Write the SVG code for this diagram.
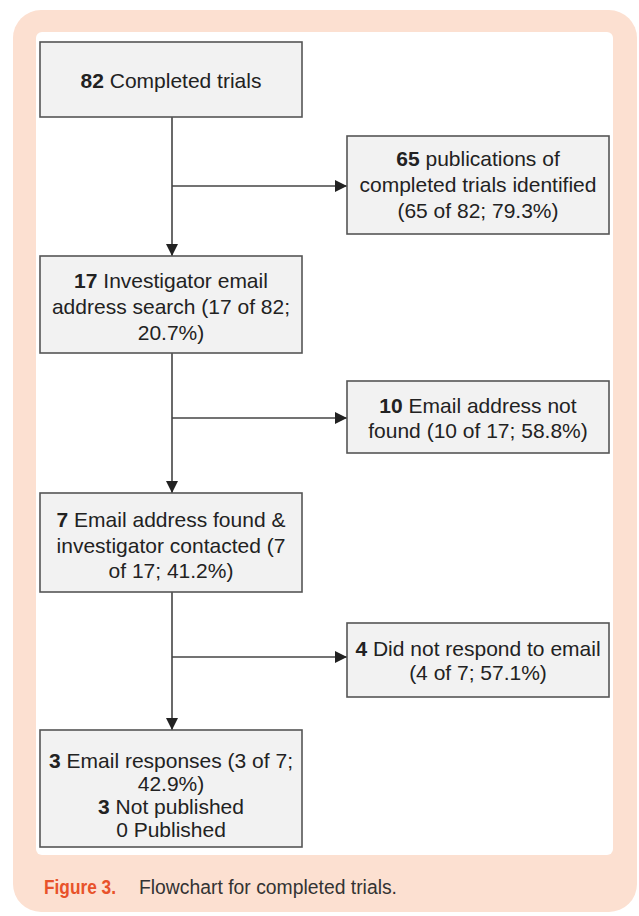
<svg xmlns="http://www.w3.org/2000/svg" width="639" height="916" viewBox="0 0 639 916">
<defs>
<style>
.box{fill:#f2f2f2;stroke:#555;stroke-width:1.6}
.t{font-family:"Liberation Sans",Arial,sans-serif;font-size:21px;fill:#222;text-anchor:middle;dominant-baseline:central}
.b{font-weight:bold}
.ln{stroke:#444;stroke-width:1.6;fill:none}
.cap{font-family:"Liberation Sans",Arial,sans-serif;font-size:20px;dominant-baseline:central}
</style>
<marker id="ah" viewBox="0 0 12 12" refX="12" refY="6" markerWidth="12" markerHeight="12" markerUnits="userSpaceOnUse" orient="auto">
<path d="M0,0 L12,6 L0,12 Z" fill="#222"/>
</marker>
</defs>
<rect x="13" y="10" width="624" height="902" rx="28" fill="#fce0d1"/>
<rect x="36" y="32" width="577" height="823" rx="6" fill="#fff"/>

<g id="connectors">
<path class="ln" d="M172,117 V256" marker-end="url(#ah)"/>
<path class="ln" d="M172,186 H347" marker-end="url(#ah)"/>
<path class="ln" d="M172,353 V493" marker-end="url(#ah)"/>
<path class="ln" d="M172,418 H347" marker-end="url(#ah)"/>
<path class="ln" d="M172,592 V730" marker-end="url(#ah)"/>
<path class="ln" d="M172,657 H347" marker-end="url(#ah)"/>
</g>

<g id="n1">
<rect class="box" x="40" y="42" width="262" height="75"/>
<text class="t" x="171" y="80"><tspan class="b">82</tspan> Completed trials</text>
</g>
<g id="n2">
<rect class="box" x="347" y="136" width="262" height="98"/>
<text class="t" x="478" y="158"><tspan class="b">65</tspan> publications of</text>
<text class="t" x="478" y="184">completed trials identified</text>
<text class="t" x="478" y="210">(65 of 82; 79.3%)</text>
</g>
<g id="n3">
<rect class="box" x="40" y="256" width="262" height="97"/>
<text class="t" x="171" y="280"><tspan class="b">17</tspan> Investigator email</text>
<text class="t" x="171" y="306">address search (17 of 82;</text>
<text class="t" x="171" y="332">20.7%)</text>
</g>
<g id="n4">
<rect class="box" x="347" y="381" width="262" height="72"/>
<text class="t" x="478" y="405"><tspan class="b">10</tspan> Email address not</text>
<text class="t" x="478" y="430">found (10 of 17; 58.8%)</text>
</g>
<g id="n5">
<rect class="box" x="40" y="493" width="262" height="99"/>
<text class="t" x="171" y="519"><tspan class="b">7</tspan> Email address found &amp;</text>
<text class="t" x="171" y="545">investigator contacted (7</text>
<text class="t" x="171" y="570">of 17; 41.2%)</text>
</g>
<g id="n6">
<rect class="box" x="347" y="623" width="262" height="74"/>
<text class="t" x="478" y="648"><tspan class="b">4</tspan> Did not respond to email</text>
<text class="t" x="478" y="672">(4 of 7; 57.1%)</text>
</g>
<g id="n7">
<rect class="box" x="40" y="730" width="262" height="117"/>
<text class="t" x="171" y="760"><tspan class="b">3</tspan> Email responses (3 of 7;</text>
<text class="t" x="171" y="783">42.9%)</text>
<text class="t" x="171" y="806"><tspan class="b">3</tspan> Not published</text>
<text class="t" x="171" y="829">0 Published</text>
</g>

<text class="cap" x="44" y="887" fill="#e8522a" font-weight="bold" textLength="72" lengthAdjust="spacingAndGlyphs">Figure 3.</text>
<text class="cap" x="139" y="887" fill="#333" textLength="258" lengthAdjust="spacingAndGlyphs">Flowchart for completed trials.</text>
</svg>
